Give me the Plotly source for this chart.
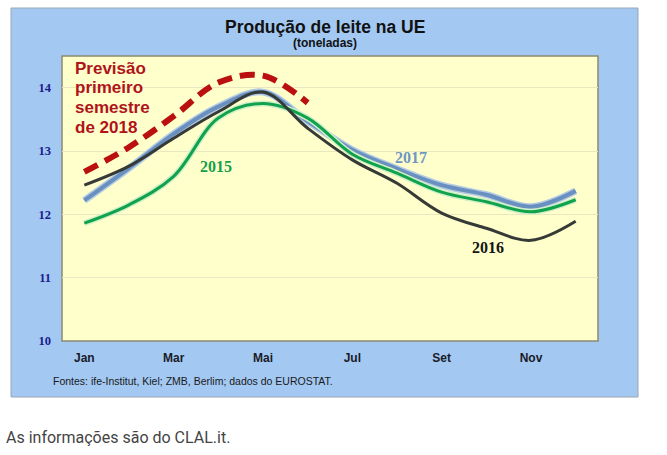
import plotly.graph_objects as go

# ---- data ----
months = [1, 2, 3, 4, 5, 6, 7, 8, 9, 10, 11, 12]
tick_vals = [1, 3, 5, 7, 9, 11]
tick_text = ["Jan", "Mar", "Mai", "Jul", "Set", "Nov"]
y_ticks = [10, 11, 12, 13, 14]

prod_2015 = [11.86, 12.15, 12.60, 13.52, 13.75, 13.52, 12.95, 12.65, 12.35, 12.20, 12.04, 12.23]
prod_2016 = [12.46, 12.76, 13.20, 13.62, 13.93, 13.36, 12.86, 12.49, 12.02, 11.78, 11.59, 11.89]
prod_2017 = [12.22, 12.73, 13.27, 13.70, 13.93, 13.47, 13.02, 12.72, 12.46, 12.31, 12.12, 12.37]
months_2018 = [1, 2, 3, 4, 5, 6]
prev_2018 = [12.67, 13.06, 13.55, 14.08, 14.19, 13.76]

fig = go.Figure()

# 2017 (steel blue with light halo)
fig.add_trace(go.Scatter(x=months, y=prod_2017, mode="lines",
                         line=dict(color="#b4cbe4", width=7, shape="spline", smoothing=1),
                         hoverinfo="skip", showlegend=False))
fig.add_trace(go.Scatter(x=months, y=prod_2017, mode="lines", name="2017",
                         line=dict(color="#6990be", width=4, shape="spline", smoothing=1),
                         showlegend=False))
# 2015 (green with light halo)
fig.add_trace(go.Scatter(x=months, y=prod_2015, mode="lines",
                         line=dict(color="#d2f0c8", width=6, shape="spline", smoothing=1),
                         hoverinfo="skip", showlegend=False))
fig.add_trace(go.Scatter(x=months, y=prod_2015, mode="lines", name="2015",
                         line=dict(color="#10a24c", width=3, shape="spline", smoothing=1),
                         showlegend=False))
# 2016 (dark grey)
fig.add_trace(go.Scatter(x=months, y=prod_2016, mode="lines", name="2016",
                         line=dict(color="#363a36", width=3, shape="spline", smoothing=1),
                         showlegend=False))
# 2018 forecast (red dashed)
fig.add_trace(go.Scatter(x=months_2018, y=prev_2018, mode="lines", name="2018",
                         line=dict(color="#bb1010", width=6, dash="15px,8px",
                                   shape="spline", smoothing=1),
                         showlegend=False))

# geometry helpers (plot area 62..598 x, 56..341 y)
L, R, T, B = 62, 598, 56, 341
W, H = R - L, B - T


def px(x):
    return (x - L) / W


def py(y):
    return (B - y) / H


shapes = [
    dict(type="rect", xref="paper", yref="paper", layer="below",
         x0=px(11), x1=px(638), y0=py(397), y1=py(8),
         fillcolor="#a3c8f2", line=dict(color="#9aa6b4", width=1)),
    dict(type="rect", xref="paper", yref="paper", layer="below",
         x0=0, x1=1, y0=0, y1=1,
         fillcolor="#ffffcc", line=dict(color="#8a8a72", width=1.5)),
]

annotations = [
    dict(text="<b>Produção de leite na UE</b>", xref="paper", yref="paper",
         x=px(325), y=py(27), showarrow=False, xanchor="center", yanchor="middle",
         font=dict(family="Liberation Sans", size=17.5, color="#111111")),
    dict(text="<b>(toneladas)</b>", xref="paper", yref="paper",
         x=px(325), y=py(43), showarrow=False, xanchor="center", yanchor="middle",
         font=dict(family="Liberation Sans", size=12, color="#111111")),
    dict(text="Fontes: ife-Institut, Kiel; ZMB, Berlim; dados do EUROSTAT.",
         xref="paper", yref="paper", x=px(51), y=py(381), showarrow=False,
         xanchor="left", yanchor="middle",
         font=dict(family="Liberation Sans", size=10.5, color="#1a1a1a")),
    dict(text="As informações são do CLAL.it.", xref="paper", yref="paper",
         x=px(4), y=py(437), showarrow=False, xanchor="left", yanchor="middle",
         font=dict(family="Roboto", size=16, color="#444444")),
    dict(text="<b>2015</b>", x=3.95, y=12.75, showarrow=False,
         font=dict(family="Liberation Serif", size=16, color="#17a04e")),
    dict(text="<b>2017</b>", x=8.31, y=12.89, showarrow=False,
         font=dict(family="Liberation Serif", size=16, color="#6f97c2")),
    dict(text="<b>2016</b>", x=10.04, y=11.47, showarrow=False,
         font=dict(family="Liberation Serif", size=16, color="#151515")),
]

prev_lines = ["Previsão", "primeiro", "semestre", "de 2018"]
prev_y = [68, 87, 107, 127]
for t, yy in zip(prev_lines, prev_y):
    annotations.append(dict(text="<b>" + t + "</b>", xref="paper", yref="paper",
                            x=px(73), y=py(yy), showarrow=False,
                            xanchor="left", yanchor="middle",
                            font=dict(family="Liberation Sans", size=17, color="#b0141a")))

fig.update_layout(
    width=667, height=455,
    margin=dict(l=L, r=667 - R, t=T, b=455 - B, pad=0),
    paper_bgcolor="white",
    plot_bgcolor="rgba(0,0,0,0)",
    shapes=shapes,
    annotations=annotations,
    xaxis=dict(range=[0.5, 12.5], tickvals=tick_vals, ticktext=tick_text,
               showgrid=False, zeroline=False, showline=False, ticks="",
               ticklabelstandoff=8,
               tickfont=dict(family="Liberation Sans", size=12, color="#1a1a28",
                             weight="bold")),
    yaxis=dict(range=[10, 14.5], tickvals=y_ticks, showgrid=True,
               gridcolor="#ebe6c2", gridwidth=1, zeroline=False, showline=False,
               ticks="", ticklabelstandoff=10,
               tickfont=dict(family="Liberation Serif", size=12.5, color="#1c1c8c",
                             weight="bold")),
)

fig.write_html("out.html")
